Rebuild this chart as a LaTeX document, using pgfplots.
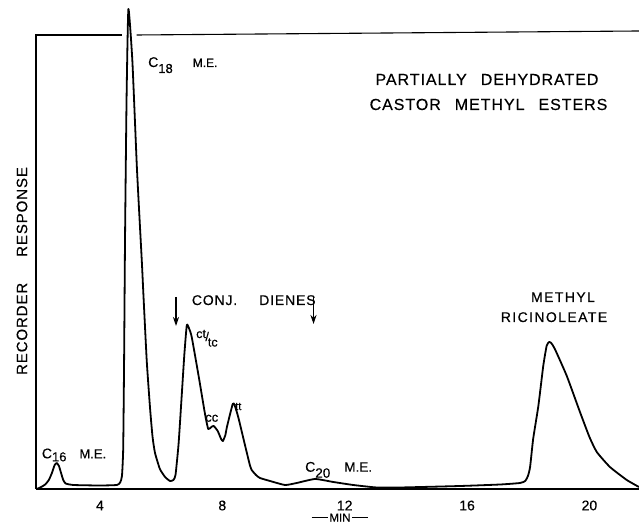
\documentclass[border=0pt]{standalone}
\usepackage{pgfplots}
\pgfplotsset{compat=1.18}
\usepackage{fontspec}
\setmainfont{Liberation Sans}[UprightFeatures={FakeBold=0.4}]
\newfontfamily\lsA{Liberation Sans}[LetterSpace=6, UprightFeatures={FakeBold=0.4}]
\newfontfamily\lsB{Liberation Sans}[LetterSpace=10, UprightFeatures={FakeBold=0.4}]
\usetikzlibrary{arrows.meta}

\pgfplotstableread{
x y
1.93 0
2.05 1.5
2.21 4.5
2.33 9
2.43 16
2.52 24
2.59 26
2.66 23
2.72 17
2.80 9
2.88 5.5
3.13 4
4.00 3.5
4.55 4
4.66 6.5
4.72 13
4.76 40
4.79 130
4.82 250
4.87 390
4.93 480
5.06 428
5.21 320
5.37 227
5.42 195
5.53 128
5.64 80
5.72 52
5.80 36
5.96 20
6.13 12
6.29 8
6.40 9
6.47 14
6.57 45
6.67 92
6.76 135
6.84 164
6.92 160
7.00 152
7.22 114
7.44 74
7.54 60
7.64 62
7.72 63
7.85 58
7.96 50
8.02 48
8.10 54
8.15 62
8.34 85
8.40 84
8.52 72
8.74 44
8.90 24
8.96 19
9.10 14
9.23 11
9.56 8
10.05 4
10.43 6
11.03 10
11.63 7
12.28 4
13.05 1.5
13.81 1.5
15.77 3
17.08 4.5
17.73 6
17.90 8
17.99 13
18.06 22
18.16 50
18.33 83
18.49 123
18.60 143
18.68 147
18.75 146
18.87 140
19.26 113
19.69 77
20.00 52
20.24 37
20.67 22
21.22 9
21.62 2
}\trace

\begin{document}
\begin{tikzpicture}
\begin{axis}[
  scale only axis, width=603pt, height=480pt,
  at={(0pt,0pt)}, anchor=south west,
  xmin=1.91, xmax=21.62, ymin=0, ymax=480,
  axis x line*=bottom, axis y line=none,
  x axis line style={line width=1.1pt},
  xtick={4,8,12,16,20}, major tick length=0pt,
  xticklabel style={anchor=center, inner sep=0pt, yshift=-16.5pt, font=\fontsize{14}{14}\selectfont},
  /pgf/number format/assume math mode=true,
  clip=false,
]
\addplot[black, line width=1.8pt, smooth, tension=0.3, line join=round] table {\trace};
\draw[line width=1.1pt] (axis cs:1.91,0) -- (axis cs:1.91,454) -- (axis cs:4.71,454);
\draw[line width=1.1pt] (axis cs:5.20,454) -- (axis cs:21.62,458);
\end{axis}

% labels (coordinates in pt relative to axis origin)
\node[anchor=base west, inner sep=0, font=\fontsize{14}{14}\selectfont] at (112pt,422pt)
  {C\raisebox{-6pt}{\fontsize{13}{13}\selectfont 18}\hspace{20pt}{\fontsize{12}{12}\selectfont M.E.}};
\node[anchor=base west, inner sep=0, font=\fontsize{14}{14}\selectfont] at (5.7pt,30.7pt)
  {C\raisebox{-3pt}{\fontsize{13}{13}\selectfont 16}\hspace{13pt}{\fontsize{13}{13}\selectfont M.E.}};
\node[anchor=base west, inner sep=0, font=\fontsize{14}{14}\selectfont] at (269pt,17.3pt)
  {C\raisebox{-6pt}{\fontsize{13.5}{13.5}\selectfont 20}\hspace{14pt}{\fontsize{13.5}{13.5}\selectfont M.E.}};

\node[anchor=base, inner sep=0, font=\lsA\fontsize{16}{16}\selectfont] at (451pt,404pt)
  {PARTIALLY\hspace{14pt}DEHYDRATED};
\node[anchor=base, inner sep=0, font=\lsA\fontsize{16}{16}\selectfont] at (452.5pt,379pt)
  {CASTOR\hspace{14pt}METHYL\hspace{14pt}ESTERS};

\node[anchor=base west, inner sep=0, font=\lsA\fontsize{14}{14}\selectfont] at (155.7pt,184pt)
  {CONJ.\hspace{22pt}DIENES};
\draw[line width=1.2pt, -{Stealth[length=9pt,width=6pt]}] (140pt,192pt) -- (140pt,163pt);
\draw[line width=1.2pt, -{Stealth[length=9pt,width=6pt]}] (277.5pt,193pt) -- (277.5pt,165pt);

\node[anchor=base west, inner sep=0, font=\fontsize{12.5}{12.5}\selectfont] at (160pt,151pt)
  {ct\kern-0.5pt\raisebox{-3pt}{/}\kern-1pt\raisebox{-8.5pt}{tc}};
\node[anchor=base west, inner sep=0, font=\fontsize{13}{13}\selectfont] at (169pt,67.3pt) {cc};
\node[anchor=base west, inner sep=0, font=\fontsize{11}{11}\selectfont] at (199pt,79pt) {tt};

\node[anchor=base, inner sep=0, font=\lsB\fontsize{14}{14}\selectfont] at (527pt,187pt) {METHYL};
\node[anchor=base, inner sep=0, font=\lsB\fontsize{14}{14}\selectfont] at (518pt,167pt) {RICINOLEATE};

\node[rotate=90, inner sep=0, font=\lsA\fontsize{15}{15}\selectfont] at (-14pt,218pt)
  {RECORDER\hspace{26pt}RESPONSE};

\node[anchor=base, inner sep=0, font=\fontsize{11.5}{11.5}\selectfont] at (304pt,-32.5pt)
  {\rule[3.5pt]{16pt}{0.9pt}\,MIN\,\rule[3.5pt]{16pt}{0.9pt}};

\pgfresetboundingbox
\path[use as bounding box] (-36pt,-35pt) rectangle (603pt,489pt);
\end{tikzpicture}
\end{document}
